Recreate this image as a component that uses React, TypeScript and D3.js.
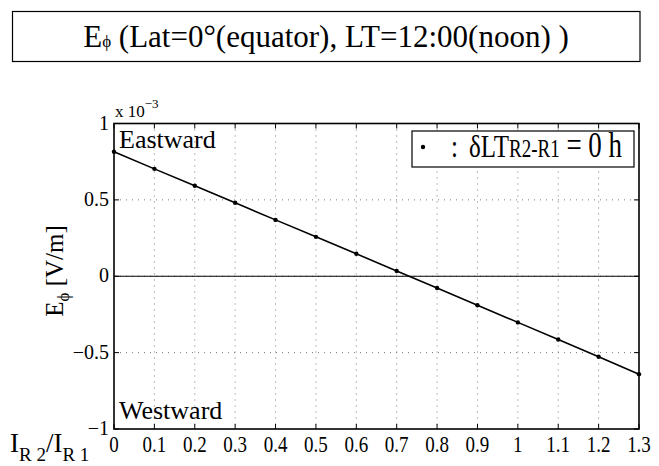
import React, { useRef, useEffect } from "react";
import * as d3 from "d3";

// I_R2 / I_R1 ratio
const ratios = [0, 0.1, 0.2, 0.3, 0.4, 0.5, 0.6, 0.7, 0.8, 0.9, 1.0, 1.1, 1.2, 1.3];
// E_phi in units of 1e-3 V/m
const ePhi = [0.815, 0.703, 0.592, 0.481, 0.369, 0.258, 0.147, 0.035, -0.077, -0.19, -0.302, -0.414, -0.527, -0.641];
const xTicks = [0, 0.1, 0.2, 0.3, 0.4, 0.5, 0.6, 0.7, 0.8, 0.9, 1, 1.1, 1.2, 1.3];
const yTicks = [-1, -0.5, 0, 0.5, 1];

const FONT = "Liberation Serif";

const App = () => {
  const svgRef = useRef<SVGSVGElement>(null);

  useEffect(() => {
    const svg = d3.select(svgRef.current);
    svg.selectAll("*").remove();

    const width = 659;
    const height = 466;
    const margin = { top: 123.5, right: 20, bottom: 37, left: 114 };

    const x = d3
      .scaleLinear()
      .domain([0, 1.3])
      .range([margin.left, width - margin.right]);
    const y = d3
      .scaleLinear()
      .domain([-1, 1])
      .range([height - margin.bottom, margin.top]);

    svg.attr("width", width).attr("height", height).attr("font-family", FONT);

    const txt = (sel: any) => sel.append("text").attr("font-family", FONT).attr("fill", "black");

    svg.append("rect").attr("width", width).attr("height", height).attr("fill", "white");

    // title box
    svg
      .append("rect")
      .attr("x", 12.5)
      .attr("y", 11.5)
      .attr("width", 627.5)
      .attr("height", 50)
      .attr("fill", "white")
      .attr("stroke", "black")
      .attr("stroke-width", 1.2);
    const title = txt(svg).attr("x", 326).attr("y", 47).attr("text-anchor", "middle").attr("font-size", 31);
    title.append("tspan").text("E");
    title.append("tspan").attr("font-size", 17).text("\u03d5");
    title.append("tspan").text(" (Lat=0\u00b0(equator), LT=12:00(noon) )");

    const [x0, x1] = x.range();
    const [y0, y1] = y.range();

    // dotted grid
    const grid = svg
      .append("g")
      .attr("stroke", "#777")
      .attr("stroke-width", 1)
      .attr("stroke-dasharray", "1,5");
    grid
      .selectAll("line.gx")
      .data(xTicks.slice(1, -1))
      .enter()
      .append("line")
      .attr("x1", (d) => x(d))
      .attr("x2", (d) => x(d))
      .attr("y1", y1)
      .attr("y2", y0);
    grid
      .selectAll("line.gy")
      .data(yTicks.slice(1, -1))
      .enter()
      .append("line")
      .attr("x1", x0)
      .attr("x2", x1)
      .attr("y1", (d) => y(d))
      .attr("y2", (d) => y(d));

    // zero line
    svg
      .append("line")
      .attr("x1", x0)
      .attr("x2", x1)
      .attr("y1", y(0))
      .attr("y2", y(0))
      .attr("stroke", "black")
      .attr("stroke-width", 1.2);

    // inward ticks on all four sides
    const tl = 5;
    const ticks = svg.append("g").attr("stroke", "black").attr("stroke-width", 1);
    xTicks.forEach((t) => {
      ticks.append("line").attr("x1", x(t)).attr("x2", x(t)).attr("y1", y0).attr("y2", y0 - tl);
      ticks.append("line").attr("x1", x(t)).attr("x2", x(t)).attr("y1", y1).attr("y2", y1 + tl);
    });
    yTicks.forEach((t) => {
      ticks.append("line").attr("x1", x0).attr("x2", x0 + tl).attr("y1", y(t)).attr("y2", y(t));
      ticks.append("line").attr("x1", x1).attr("x2", x1 - tl).attr("y1", y(t)).attr("y2", y(t));
    });

    // axes frame
    svg
      .append("rect")
      .attr("x", x0)
      .attr("y", y1)
      .attr("width", x1 - x0)
      .attr("height", y0 - y1)
      .attr("fill", "none")
      .attr("stroke", "black")
      .attr("stroke-width", 1.6);

    // tick labels
    xTicks.forEach((t) => {
      txt(svg)
        .attr("transform", `translate(${x(t)},${y0 + 23}) scale(1,1.2)`)
        .attr("text-anchor", "middle")
        .attr("font-size", 19)
        .text(d3.format("~g")(t));
    });
    yTicks.forEach((t) => {
      txt(svg)
        .attr("x", x0 - 5)
        .attr("y", y(t) + 6)
        .attr("text-anchor", "end")
        .attr("font-size", 20)
        .text(t < 0 ? "\u2212" + d3.format("~g")(-t) : d3.format("~g")(t));
    });

    // exponent
    const expo = txt(svg).attr("x", 115).attr("y", 117).attr("font-size", 17);
    expo.append("tspan").text("x 10");
    expo.append("tspan").attr("dy", -9).attr("font-size", 13).text("\u22123");

    // line + markers
    const pts = ratios.map((r, i) => [r, ePhi[i]] as [number, number]);
    const line = d3
      .line<[number, number]>()
      .x((d) => x(d[0]))
      .y((d) => y(d[1]));
    svg
      .append("path")
      .datum(pts)
      .attr("d", line)
      .attr("fill", "none")
      .attr("stroke", "black")
      .attr("stroke-width", 1.6);
    svg
      .selectAll("circle.pt")
      .data(pts)
      .enter()
      .append("circle")
      .attr("cx", (d) => x(d[0]))
      .attr("cy", (d) => y(d[1]))
      .attr("r", 2.2)
      .attr("fill", "black");

    // direction labels
    txt(svg).attr("x", 119).attr("y", 148).attr("font-size", 26).text("Eastward");
    txt(svg).attr("x", 119).attr("y", 419).attr("font-size", 26).text("Westward");

    // legend
    svg
      .append("rect")
      .attr("x", 412)
      .attr("y", 131)
      .attr("width", 222)
      .attr("height", 36)
      .attr("fill", "white")
      .attr("stroke", "black")
      .attr("stroke-width", 1.2);
    svg.append("circle").attr("cx", 423).attr("cy", 147).attr("r", 2.2).attr("fill", "black");
    txt(svg)
      .attr("transform", "translate(451,157) scale(1,1.3)")
      .attr("font-size", 25)
      .text(":");
    const leg = txt(svg).attr("transform", "translate(469,157) scale(1,1.3)").attr("font-size", 25);
    leg.append("tspan").text("\u03b4LT");
    leg.append("tspan").attr("font-size", 19).text("R2-R1");
    leg.append("tspan").attr("font-size", 27).text(" = 0 h");

    // y label
    const yl = txt(svg)
      .attr("transform", "translate(63,271) rotate(-90)")
      .attr("text-anchor", "middle")
      .attr("font-size", 25);
    yl.append("tspan").text("E");
    yl.append("tspan").attr("dy", 6).attr("font-size", 17).text("\u03d5");
    yl.append("tspan").attr("dy", -6).text(" [V/m]");

    // x label
    const xl = txt(svg).attr("x", 10).attr("y", 452).attr("font-size", 27);
    xl.append("tspan").text("I");
    xl.append("tspan").attr("dy", 9).attr("font-size", 19).text("R 2");
    xl.append("tspan").attr("dy", -9).text("/I");
    xl.append("tspan").attr("dy", 9).attr("font-size", 19).text("R 1");
  }, []);

  return (
    <div style={{ position: "absolute", left: 0, top: 0 }}>
      <svg ref={svgRef} style={{ display: "block" }}></svg>
    </div>
  );
};

export default App;
